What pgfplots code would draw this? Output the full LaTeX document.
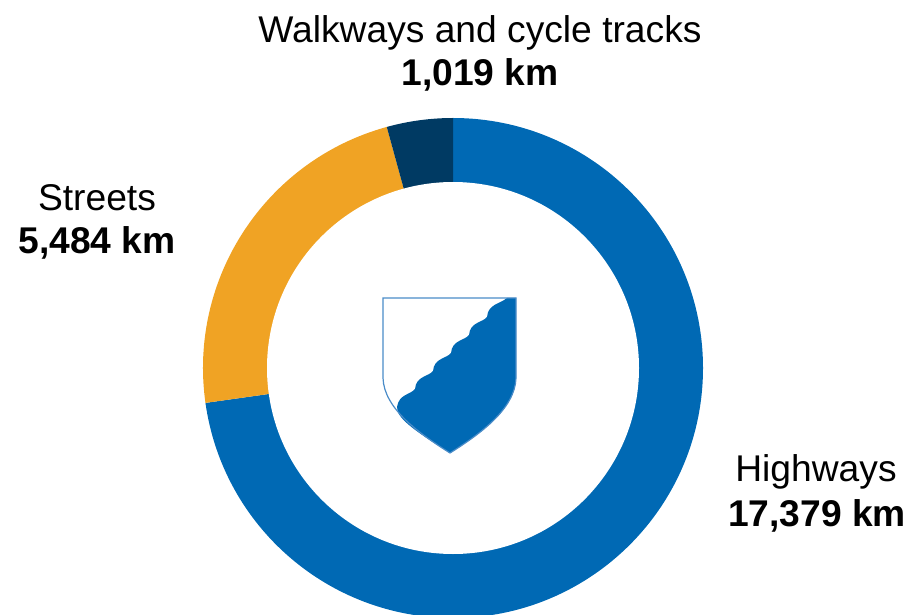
\documentclass[border=0pt]{standalone}
\usepackage{pgfplots}
\pgfplotsset{compat=1.18}
\usepackage{pgfplotstable}
\usepackage{fontspec}
\setmainfont{Liberation Sans}
\definecolor{hw}{HTML}{0069B4}
\definecolor{st}{HTML}{F0A324}
\definecolor{wk}{HTML}{003A63}
\definecolor{shline}{HTML}{4A8CC8}
\pgfplotstableread{
label value
Highways 17379
Streets 5484
Walkways 1019
}\roaddata
\begin{document}
\begin{tikzpicture}
\pgfkeys{/pgf/fpu=true,/pgf/fpu/output format=fixed}
\pgfplotstablegetelem{0}{value}\of\roaddata \pgfmathsetmacro\va{\pgfplotsretval}
\pgfplotstablegetelem{1}{value}\of\roaddata \pgfmathsetmacro\vb{\pgfplotsretval}
\pgfplotstablegetelem{2}{value}\of\roaddata \pgfmathsetmacro\vc{\pgfplotsretval}
\pgfmathsetmacro\tot{\va+\vb+\vc}
\pgfmathsetmacro\aA{90-360*(\va/\tot)}
\pgfmathsetmacro\aB{\aA-360*(\vb/\tot)}
\pgfkeys{/pgf/fpu=false}
\clip (0,0) rectangle (910pt,614pt);
\begin{axis}[
  scale only axis, width=910pt, height=614pt,
  xmin=0, xmax=910, ymin=0, ymax=614,
  hide axis, clip=true,
]
% donut (centre 453,246; outer radius 250, inner 186)
\fill[hw] (axis cs:453,246) -- ++(90:250pt) arc[start angle=90,end angle=\aA,radius=250pt] -- cycle;
\fill[st] (axis cs:453,246) -- ++(\aA:250pt) arc[start angle=\aA,end angle=\aB,radius=250pt] -- cycle;
\fill[wk] (axis cs:453,246) -- ++(\aB:250pt) arc[start angle=\aB,end angle=-270,radius=250pt] -- cycle;
\fill[white] (axis cs:453,246) circle[radius=186pt];
% shield
\fill[white] (axis cs:383,316) -- (axis cs:516,316) -- (axis cs:516,236)
  .. controls (axis cs:515,205) and (axis cs:480,180) .. (axis cs:450,161)
  .. controls (axis cs:420,180) and (axis cs:384,205) .. (axis cs:383,236) -- cycle;
\fill[hw] (axis cs:516,316) -- (axis cs:516,236)
  .. controls (axis cs:515,205) and (axis cs:480,180) .. (axis cs:450,161)
  .. controls (axis cs:420,180) and (axis cs:396,195) .. (axis cs:397,207)
  .. controls (axis cs:399,220) and (axis cs:410,219) .. (axis cs:415,225)
  .. controls (axis cs:416,238) and (axis cs:428,237) .. (axis cs:433,243)
  .. controls (axis cs:434,256) and (axis cs:446,255) .. (axis cs:451,261)
  .. controls (axis cs:452,274) and (axis cs:464,273) .. (axis cs:469,279)
  .. controls (axis cs:470,292) and (axis cs:482,291) .. (axis cs:487,297)
  .. controls (axis cs:488,310) and (axis cs:500,310) .. (axis cs:507,316) -- cycle;
\draw[shline, line width=1.2pt] (axis cs:383,316) -- (axis cs:516,316) -- (axis cs:516,236)
  .. controls (axis cs:515,205) and (axis cs:480,180) .. (axis cs:450,161)
  .. controls (axis cs:420,180) and (axis cs:384,205) .. (axis cs:383,236) -- cycle;
% labels
\node[anchor=base, font=\fontsize{37.2}{40}\selectfont] at (axis cs:480,571) {Walkways and cycle tracks};
\node[anchor=base, font=\fontsize{37.2}{40}\selectfont\bfseries] at (axis cs:480,528) {1,019 km};
\node[anchor=base, font=\fontsize{37.2}{40}\selectfont] at (axis cs:97,403) {Streets};
\node[anchor=base, font=\fontsize{37.2}{40}\selectfont\bfseries] at (axis cs:97,360) {5,484 km};
\node[anchor=base, font=\fontsize{37.2}{40}\selectfont] at (axis cs:816,133) {Highways};
\node[anchor=base, font=\fontsize{37.2}{40}\selectfont\bfseries] at (axis cs:817,88) {17,379 km};
\end{axis}
\end{tikzpicture}
\end{document}
